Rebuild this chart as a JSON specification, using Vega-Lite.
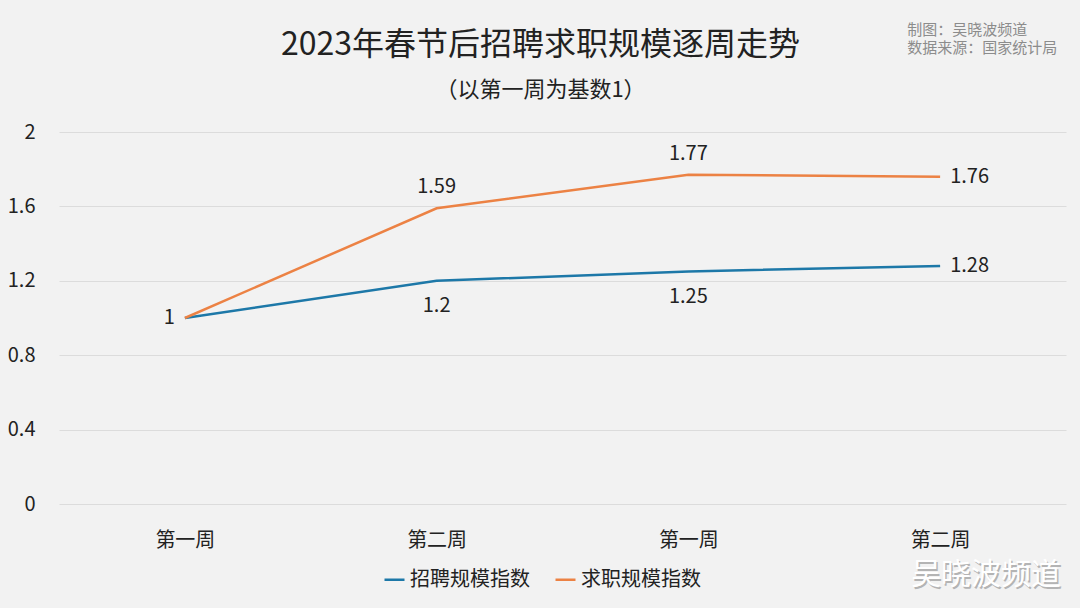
{
  "$schema": "https://vega.github.io/schema/vega-lite/v6.json",
  "width": 1007,
  "height": 372,
  "autosize": {"type": "none"},
  "padding": {"left": 59, "top": 132, "right": 14, "bottom": 104},
  "background": "#f2f2f2",
  "config": {
    "font": "Noto Sans CJK SC",
    "view": {"stroke": null},
    "text": {"font": "Noto Sans CJK SC"}
  },
  "title": {
    "text": "2023年春节后招聘求职规模逐周走势",
    "subtitle": "（以第一周为基数1）",
    "fontSize": 32,
    "fontWeight": "normal",
    "color": "#222222",
    "subtitleFontSize": 22,
    "subtitleColor": "#222222",
    "subtitlePadding": 18,
    "anchor": "middle",
    "frame": "group",
    "dx": -22,
    "offset": -79
  },
  "data": {
    "values": [
      {"idx": 1, "series": "招聘规模指数", "value": 1},
      {"idx": 2, "series": "招聘规模指数", "value": 1.2},
      {"idx": 3, "series": "招聘规模指数", "value": 1.25},
      {"idx": 4, "series": "招聘规模指数", "value": 1.28},
      {"idx": 1, "series": "求职规模指数", "value": 1},
      {"idx": 2, "series": "求职规模指数", "value": 1.59},
      {"idx": 3, "series": "求职规模指数", "value": 1.77},
      {"idx": 4, "series": "求职规模指数", "value": 1.76}
    ]
  },
  "encoding": {
    "x": {
      "field": "idx",
      "type": "ordinal",
      "scale": {"type": "point", "padding": 0.5},
      "axis": {
        "title": null,
        "labelAngle": 0,
        "labelExpr": "datum.value == 1 || datum.value == 3 ? '第一周' : '第二周'",
        "labelFontSize": 20,
        "labelColor": "#222222",
        "labelPadding": 26,
        "domain": false,
        "ticks": false,
        "grid": false
      }
    },
    "y": {
      "field": "value",
      "type": "quantitative",
      "scale": {"domain": [0, 2], "nice": false, "zero": true},
      "axis": {
        "title": null,
        "values": [0, 0.4, 0.8, 1.2, 1.6, 2],
        "format": "~g",
        "labelFontSize": 20,
        "labelColor": "#222222",
        "labelPadding": 24,
        "domain": false,
        "ticks": false,
        "grid": true,
        "gridColor": "#dcdcdc",
        "gridWidth": 1
      }
    }
  },
  "layer": [
    {
      "mark": {"type": "line", "strokeWidth": 2.5},
      "encoding": {
        "color": {
          "field": "series",
          "type": "nominal",
          "scale": {"domain": ["招聘规模指数", "求职规模指数"], "range": ["#1d78a8", "#ec8244"]},
          "legend": {
            "title": null,
            "orient": "none",
            "direction": "horizontal",
            "legendX": 324,
            "legendY": 436,
            "symbolType": "stroke",
            "symbolSize": 400,
            "symbolStrokeWidth": 2.5,
            "labelFontSize": 20,
            "labelColor": "#222222",
            "labelOffset": 4,
            "columnPadding": 20
          }
        }
      }
    },
    {
      "transform": [{"filter": "datum.series == '求职规模指数' && (datum.idx == 2 || datum.idx == 3)"}],
      "mark": {"type": "text", "fontSize": 20, "color": "#222222", "dy": -21, "baseline": "middle"},
      "encoding": {"text": {"field": "value", "type": "quantitative"}}
    },
    {
      "transform": [{"filter": "datum.series == '招聘规模指数' && (datum.idx == 2 || datum.idx == 3)"}],
      "mark": {"type": "text", "fontSize": 20, "color": "#222222", "dy": 25, "baseline": "middle"},
      "encoding": {"text": {"field": "value", "type": "quantitative"}}
    },
    {
      "transform": [{"filter": "datum.idx == 4"}],
      "mark": {"type": "text", "fontSize": 20, "color": "#222222", "dx": 10, "align": "left", "baseline": "middle"},
      "encoding": {"text": {"field": "value", "type": "quantitative"}}
    },
    {
      "transform": [{"filter": "datum.idx == 1 && datum.series == '招聘规模指数'"}],
      "mark": {"type": "text", "fontSize": 20, "color": "#222222", "dx": -10, "align": "right", "baseline": "middle"},
      "encoding": {"text": {"field": "value", "type": "quantitative"}}
    },
    {
      "transform": [{"filter": "datum.idx == 4 && datum.series == '招聘规模指数'"}],
      "mark": {"type": "text", "fontSize": 15, "color": "#8c8c8c", "align": "left", "baseline": "middle", "dx": -33},
      "encoding": {"y": {"datum": 2.55}, "text": {"value": "制图：吴晓波频道"}}
    },
    {
      "transform": [{"filter": "datum.idx == 4 && datum.series == '招聘规模指数'"}],
      "mark": {"type": "text", "fontSize": 15, "color": "#8c8c8c", "align": "left", "baseline": "middle", "dx": -33},
      "encoding": {"y": {"datum": 2.452}, "text": {"value": "数据来源：国家统计局"}}
    },
    {
      "transform": [{"filter": "datum.idx == 4 && datum.series == '招聘规模指数'"}],
      "mark": {"type": "text", "fontSize": 30, "color": "#b4b4b4", "align": "left", "baseline": "middle", "dx": -27.5, "dy": 1.5},
      "encoding": {"y": {"datum": -0.382}, "text": {"value": "吴晓波频道"}}
    },
    {
      "transform": [{"filter": "datum.idx == 4 && datum.series == '招聘规模指数'"}],
      "mark": {"type": "text", "fontSize": 30, "color": "#ffffff", "align": "left", "baseline": "middle", "dx": -29},
      "encoding": {"y": {"datum": -0.382}, "text": {"value": "吴晓波频道"}}
    }
  ]
}
